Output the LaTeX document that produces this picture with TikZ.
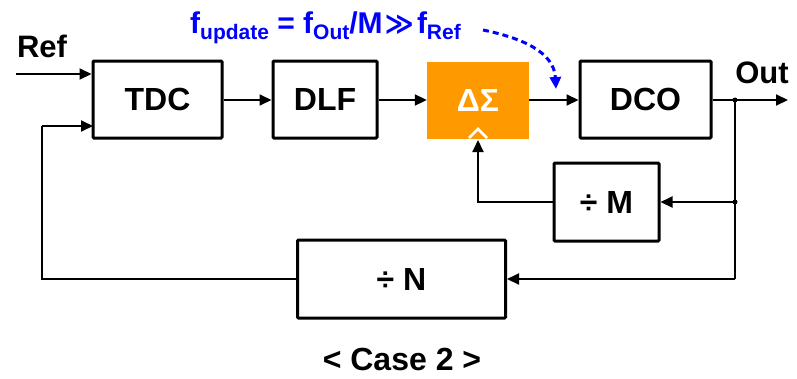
\documentclass[tikz,border=0pt]{standalone}
\usepackage{fontspec}
\setmainfont{Liberation Sans}
\newfontfamily\djv{DejaVu Sans}
\usetikzlibrary{arrows.meta}
\definecolor{sdorange}{RGB}{255,153,0}
\definecolor{annblue}{RGB}{0,0,255}
\begin{document}
\begin{tikzpicture}[x=1pt,y=-1pt,
 blk/.style={draw, line width=3pt, rounded corners=1pt, inner sep=0pt,
   font=\bfseries\fontsize{32}{34}\selectfont},
 wire/.style={line width=2pt},
 arr/.style={wire, -{Triangle[length=12pt,width=11pt]}},
 lbl/.style={font=\bfseries\fontsize{31}{33}\selectfont, inner sep=0pt},
 dot/.style={circle, fill, inner sep=0pt, minimum size=5pt}
 ]
\useasboundingbox (0,0) rectangle (797,378);
% blocks
\node[blk, minimum width=129pt, minimum height=77pt] (tdc) at (157.5,99.5) {TDC};
\node[blk, minimum width=104pt, minimum height=77pt] (dlf) at (325,99.5) {DLF};
\node[fill=sdorange, minimum width=102pt, minimum height=77pt, inner sep=0pt,
  text=white, font=\bfseries\fontsize{32}{34}\selectfont] (ds) at (478,100) {ΔΣ};
\node[blk, minimum width=131pt, minimum height=77pt] (dco) at (645.5,99.5) {DCO};
\node[blk, minimum width=105pt, minimum height=78pt] (divm) at (606.5,202) {÷ M};
\node[blk, minimum width=208pt, minimum height=78pt] (divn) at (401.5,279) {÷ N};
% labels
\node[lbl, anchor=base] (ref) at (42,57) {Ref};
\node[lbl, anchor=base] (out) at (762,83) {Out};
\node[lbl, font=\bfseries\fontsize{32}{34}\selectfont, anchor=base] (cap) at (402,370) {< Case 2 >};
% coordinates
\coordinate (refin) at (16,74);
\coordinate (tdcfb) at (93,126);
\coordinate (j1) at (735,100);
\coordinate (j2) at (735,202);
\coordinate (outend) at (788,100);
\coordinate (dsbot) at (478,140);
\coordinate (as) at (483,30);
\coordinate (ae) at (556,89);
% connectors
\draw[arr] (refin) -- (refin -| tdc.west);
\draw[arr] (tdc.east |- 0,100) -- (dlf.west |- 0,100);
\draw[arr] (dlf.east |- 0,100) -- (ds.west |- 0,100);
\draw[arr] (ds.east |- 0,100) -- (dco.west |- 0,100);
\draw[arr] (dco.east |- 0,100) -- (outend);
\draw[wire] (j1) -- (735,279);
\draw[arr] (j2) -- (divm.east |- j2);
\draw[arr] (735,279) -- (divn.east |- 0,279);
\draw[arr] (divm.west |- 0,202) -| (dsbot);
\draw[wire] (divn.west |- 0,279) -- (42,279) -- (42,126);
\draw[arr] (42,126) -- (tdcfb);
\node[dot] at (j1) {};
\node[dot] at (j2) {};
% caret inside delta-sigma
\draw[white, line width=2.5pt] (469,138) -- (478,129) -- (487,138);
% annotation
\node[anchor=base west, inner sep=0pt, text=annblue, font=\bfseries\fontsize{30}{32}\selectfont] (ann) at (190,33)
 {f\raisebox{-6pt}{\fontsize{21}{21}\selectfont update} = f\raisebox{-6pt}{\fontsize{21}{21}\selectfont Out}/M\kern2pt{\djv\fontsize{28}{30}\selectfont ≫}\kern3pt f\raisebox{-6pt}{\fontsize{21}{21}\selectfont Ref}};
\draw[annblue, line width=3pt, dash pattern=on 6pt off 4pt, -{Triangle[length=12pt,width=11pt]}]
 (as) .. controls (522,38) and (554,52) .. (ae);
\end{tikzpicture}
\end{document}
